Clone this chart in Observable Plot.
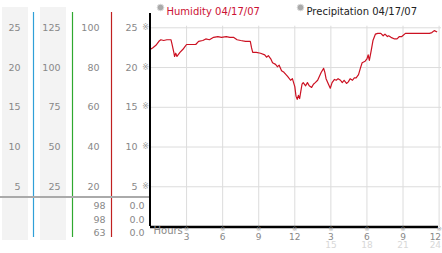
<!DOCTYPE html>
<html><head><meta charset="utf-8">
<script src="https://cdn.jsdelivr.net/npm/d3@7"></script>
<script src="https://cdn.jsdelivr.net/npm/@observablehq/plot@0.6"></script>
<style>
body{margin:0;background:#fff;}
#chart{width:442px;height:253px;overflow:hidden;}
</style>
</head><body><div id="chart"></div>
<script>
// ---- data ----
const hours = [0,0.2,0.45,0.7,0.86,1.1,1.36,1.7,1.78,1.94,2.0,2.1,2.2,2.45,2.7,2.85,3.0,3.35,3.76,4.0,4.35,4.6,4.9,5.25,5.6,5.9,6.3,6.6,6.9,7.2,7.5,7.9,8.3,8.4,8.5,8.8,9.15,9.5,9.65,9.8,10.0,10.15,10.4,10.55,10.7,10.9,11.1,11.4,11.65,11.8,12.0,12.1,12.2,12.3,12.4,12.5,12.6,12.7,12.9,13.05,13.2,13.4,13.55,13.7,13.9,14.05,14.2,14.4,14.5,14.6,14.8,14.95,15.1,15.3,15.45,15.6,15.8,15.95,16.1,16.3,16.45,16.6,16.8,16.95,17.1,17.3,17.45,17.6,17.85,18.0,18.1,18.2,18.35,18.5,18.7,18.9,19.15,19.35,19.5,19.7,19.8,20.0,20.3,20.5,20.7,20.9,21.2,21.6,22.4,23.2,23.4,23.6,23.8];
const humidity = [22.3,22.5,22.8,23.3,23.5,23.4,23.5,23.5,23.0,21.9,21.4,21.8,21.4,21.9,22.3,22.6,22.9,22.9,22.9,23.3,23.4,23.6,23.5,23.8,23.9,23.8,23.9,23.8,23.8,23.5,23.4,23.3,23.3,22.5,21.9,21.9,21.8,21.6,21.3,21.5,21.1,20.6,20.4,20.1,20.3,19.6,19.4,18.9,18.4,18.6,17.6,16.4,16.0,16.5,16.1,17.0,17.9,18.1,17.7,18.1,17.7,17.5,17.9,18.1,18.4,18.9,19.4,19.9,19.4,18.6,17.9,17.4,18.1,18.5,18.4,18.6,18.4,18.1,18.4,18.0,18.2,18.6,18.4,18.7,18.7,19.1,19.9,20.6,20.8,21.1,21.6,20.9,22.1,23.4,24.2,24.3,24.3,24.0,24.2,23.9,24.0,23.8,23.6,23.6,23.9,23.9,24.3,24.3,24.3,24.3,24.4,24.65,24.5];

const yTicks = [5,10,15,20,25];
const col1Labels = ["5","10","15","20","25"];
const col2Labels = ["25","50","75","100","125"];
const col3Labels = ["20","40","60","80","100"];
const col4Labels = ["5","10","15","20","25"];

const xTicks = [3,6,9,12,15,18,21,24];
const xTopLabels = ["3","6","9","12","3","6","9","12"];
const xBottomLabels = ["","","","","15","18","21","24"];

const statsA = ["98","98","63"];
const statsB = ["0.0","0.0","0.0"];
const legendLabels = ["Humidity 04/17/07","Precipitation 04/17/07"];
const axisTitle = "Hours";
const tickGlyph = "\u203B";

const data = hours.map((h,i)=>({h, v: humidity[i]}));
const lastTick = xTicks.length - 1;
const xTickRows = xTicks.map((t,i)=>({t, top: xTopLabels[i], bottom: xBottomLabels[i], last: i === lastTick}));

// ---- decorations drawn inside Plot's render pass ----
function decor(index, scales, values, dims) {
  const g = d3.create("svg:g");
  const top = dims.marginTop, bottom = dims.height - dims.marginBottom;
  [[2,28],[40,66]].forEach(([a,b])=>{
    g.append("rect").attr("x",a).attr("y",top-6).attr("width",b-a).attr("height",bottom-top+20).attr("fill","#f3f3f3");
  });
  [[33.5,"#2f9fd8"],[72.5,"#2fa82f"],[111.5,"#c02020"]].forEach(([x,c])=>{
    g.append("line").attr("x1",x).attr("x2",x).attr("y1",top-1).attr("y2",bottom+11)
      .style("stroke",c).style("stroke-width","1.2px");
  });
  g.append("line").attr("x1",0).attr("x2",dims.marginLeft).attr("y1",197).attr("y2",197)
    .style("stroke","#aaa").style("stroke-width","2px");
  return g.node();
}

const gray = "#888";
const chart = Plot.plot({
  width: 442, height: 253,
  marginLeft: 150, marginRight: 1, marginTop: 13, marginBottom: 27,
  style: {fontFamily: "DejaVu Sans, Verdana, sans-serif", fontSize: "9.5px", background: "#fff"},
  x: {domain: [0, 24.2], axis: null},
  y: {domain: [0, 26.8], axis: null},
  marks: [
    decor,
    // grid
    Plot.ruleX(xTicks, {x: d=>d, y1: 0, y2: 25.2, stroke: "#dcdcdc", strokeWidth: 1}),
    Plot.ruleY(yTicks, {y: d=>d, stroke: "#dcdcdc", strokeWidth: 1}),
    // data line
    Plot.line(data, {x: "h", y: "v", stroke: "#cc1122", strokeWidth: 1.2}),
    // axes
    Plot.ruleX([0], {x: d=>d, stroke: "#000", strokeWidth: 2, dx: -0.5}),
    Plot.ruleY([0], {y: d=>d, x1: 0, x2: 23.95, stroke: "#000", strokeWidth: 2.5, dy: 0.5}),
    // left columns
    Plot.text(yTicks, {y: d=>d, text: (d,i)=>col1Labels[i], frameAnchor: "left", textAnchor: "end", dx: -130, fill: gray}),
    Plot.text(yTicks, {y: d=>d, text: (d,i)=>col2Labels[i], frameAnchor: "left", textAnchor: "end", dx: -90, fill: gray}),
    Plot.text(yTicks, {y: d=>d, text: (d,i)=>col3Labels[i], frameAnchor: "left", textAnchor: "end", dx: -51, fill: gray}),
    Plot.text(yTicks, {y: d=>d, text: (d,i)=>col4Labels[i], frameAnchor: "left", textAnchor: "end", dx: -13, fill: gray}),
    Plot.text(yTicks, {y: d=>d, text: ()=>tickGlyph, frameAnchor: "left", textAnchor: "middle", dx: -5, dy: -0.5, fill: "#999", fontSize: 8}),
    // stats rows below
    Plot.text([statsA.join("\n")], {text: d=>d, frameAnchor: "bottom-left", textAnchor: "end", lineAnchor: "top", lineHeight: 1.42, dx: -45, dy: -27, fill: gray}),
    Plot.text([statsB.join("\n")], {text: d=>d, frameAnchor: "bottom-left", textAnchor: "end", lineAnchor: "top", lineHeight: 1.42, dx: -6, dy: -27, fill: gray}),
    // x labels
    Plot.text([axisTitle], {text: d=>d, frameAnchor: "bottom-left", textAnchor: "start", dx: 3, dy: 7, fill: gray, fontSize: 10}),
    Plot.text(xTickRows, {x: "t", text: ()=>tickGlyph, frameAnchor: "bottom", dy: 4, fill: "#999", fontSize: 6.5}),
    Plot.text(xTickRows, {filter: d=>!d.last, x: "t", text: "top", frameAnchor: "bottom", dy: 13, fill: gray, fontSize: 9}),
    Plot.text(xTickRows, {filter: d=>!d.last, x: "t", text: "bottom", frameAnchor: "bottom", dy: 21.5, fill: "#d8d8d8", fontSize: 9}),
    Plot.text(xTickRows, {filter: d=>d.last, x: "t", text: "top", frameAnchor: "bottom", textAnchor: "end", dx: 2, dy: 13, fill: gray, fontSize: 9}),
    Plot.text(xTickRows, {filter: d=>d.last, x: "t", text: "bottom", frameAnchor: "bottom", textAnchor: "end", dx: 2, dy: 21.5, fill: "#d8d8d8", fontSize: 9}),
    // legend
    Plot.dot([0], {frameAnchor: "top-left", dx: 10, dy: -6, r: 3.3, fill: "#aaa", stroke: "#ddd", strokeWidth: 1}),
    Plot.dot([1], {frameAnchor: "top-left", dx: 150, dy: -6, r: 3.3, fill: "#aaa", stroke: "#ddd", strokeWidth: 1}),
    Plot.text([legendLabels[0]], {text: d=>d, frameAnchor: "top-left", textAnchor: "start", dx: 16, dy: -6, fill: "#cc1133", fontSize: 10}),
    Plot.text([legendLabels[1]], {text: d=>d, frameAnchor: "top-left", textAnchor: "start", dx: 156, dy: -6, fill: "#222", fontSize: 10})
  ]
});
document.getElementById("chart").appendChild(chart);
</script>
</body></html>
